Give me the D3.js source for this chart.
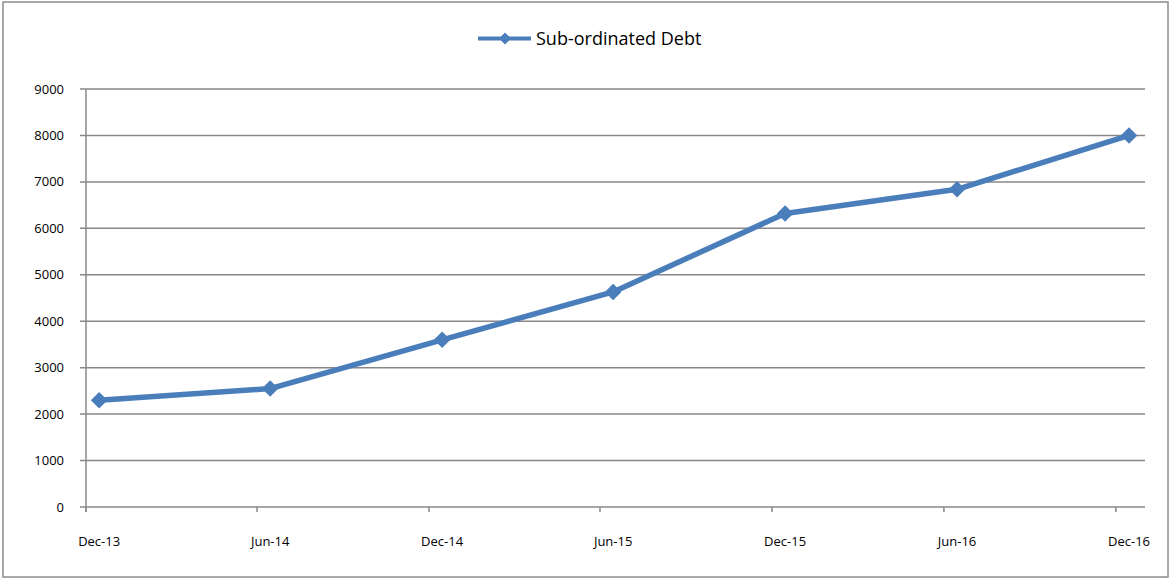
<!DOCTYPE html>
<html>
<head>
<meta charset="utf-8">
<script src="https://cdn.jsdelivr.net/npm/d3@7"></script>
<style>
  body { margin: 0; background: #fff; }
  text { font-family: "Open Sans", sans-serif; fill: #000; }
</style>
</head>
<body>
<svg width="1174" height="578"></svg>
<script>
// data
const periods = ["Dec-13", "Jun-14", "Dec-14", "Jun-15", "Dec-15", "Jun-16", "Dec-16"];
const periodDates = ["2013-12-15", "2014-06-15", "2014-12-15", "2015-06-15", "2015-12-15", "2016-06-15", "2016-12-15"];
const tickDates = ["2013-12-01", "2014-06-01", "2014-12-01", "2015-06-01", "2015-12-01", "2016-06-01", "2016-12-01"];
const debtValues = [2300, 2550, 3600, 4630, 6320, 6840, 8000];
const yTicks = [0, 1000, 2000, 3000, 4000, 5000, 6000, 7000, 8000, 9000];
const seriesName = "Sub-ordinated Debt";

const parse = d3.timeParse("%Y-%m-%d");
const color = "#4a7ebb";
const gridColor = "#888888";

var svg = d3.select("svg");

// chart border
svg.append("rect")
  .attr("x", 3).attr("y", 2)
  .attr("width", 1165).attr("height", 575)
  .attr("fill", "none")
  .attr("stroke", "#8c8c8c")
  .attr("stroke-width", 1.5);

var x = d3.scaleTime()
  .domain([parse("2013-12-01"), parse("2017-01-01")])
  .range([86, 1145]);

var y = d3.scaleLinear()
  .domain([0, 9000])
  .range([507, 89]);

// gridlines
svg.append("g")
  .selectAll("line")
  .data(yTicks)
  .enter().append("line")
  .attr("x1", 80).attr("x2", 1145)
  .attr("y1", d => y(d)).attr("y2", d => y(d))
  .attr("stroke", gridColor)
  .attr("stroke-width", 1.5);

// y axis line
svg.append("line")
  .attr("x1", 86).attr("x2", 86)
  .attr("y1", y(9000)).attr("y2", y(0) + 5)
  .attr("stroke", gridColor)
  .attr("stroke-width", 1.5);

// y labels
svg.append("g")
  .selectAll("text")
  .data(yTicks)
  .enter().append("text")
  .attr("x", 64)
  .attr("y", d => y(d))
  .attr("dy", "0.35em")
  .attr("text-anchor", "end")
  .style("font-size", "13px")
  .text(d => d);

// x tick marks
svg.append("g")
  .selectAll("line")
  .data(tickDates)
  .enter().append("line")
  .attr("x1", d => x(parse(d))).attr("x2", d => x(parse(d)))
  .attr("y1", y(0)).attr("y2", y(0) + 5)
  .attr("stroke", gridColor)
  .attr("stroke-width", 1.5);

// x labels
svg.append("g")
  .selectAll("text")
  .data(periods)
  .enter().append("text")
  .attr("x", (d, i) => x(parse(periodDates[i])))
  .attr("y", 546)
  .attr("text-anchor", "middle")
  .style("font-size", "13px")
  .text(d => d);

var points = debtValues.map((v, i) => ({ date: parse(periodDates[i]), value: v }));

var line = d3.line()
  .x(d => x(d.date))
  .y(d => y(d.value));

svg.append("path")
  .datum(points)
  .attr("d", line)
  .attr("fill", "none")
  .attr("stroke", color)
  .attr("stroke-width", 5.5)
  .attr("stroke-linejoin", "round");

var diamond = d3.symbol().type(d3.symbolDiamond2).size(175);

svg.append("g")
  .selectAll("path")
  .data(points)
  .enter().append("path")
  .attr("d", diamond)
  .attr("transform", d => "translate(" + x(d.date) + "," + y(d.value) + ")")
  .attr("fill", color);

// legend
var legend = svg.append("g");
legend.append("line")
  .attr("x1", 478).attr("x2", 531)
  .attr("y1", 38.5).attr("y2", 38.5)
  .attr("stroke", color)
  .attr("stroke-width", 4);
legend.append("path")
  .attr("d", d3.symbol().type(d3.symbolDiamond2).size(90))
  .attr("transform", "translate(505,38.5)")
  .attr("fill", color);
legend.append("text")
  .attr("x", 536)
  .attr("y", 38.5)
  .attr("dy", "0.35em")
  .style("font-size", "18px")
  .text(seriesName);
</script>
</body>
</html>
